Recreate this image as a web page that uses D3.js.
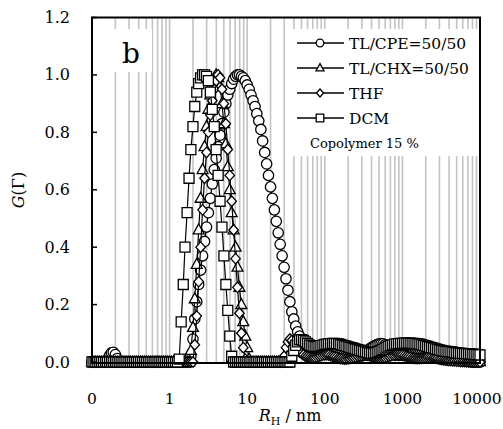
<!DOCTYPE html>
<html><head><meta charset="utf-8">
<script src="https://cdn.jsdelivr.net/npm/d3@7"></script>
<style>body{margin:0;background:#fff}svg{display:block}text{font-family:"DejaVu Serif",serif}</style>
</head><body>
<script>
// R_H grid (nm), log-spaced
const rh = [0.1,0.106,0.112,0.119,0.126,0.133,0.141,0.15,0.158,0.168,0.178,0.188,0.2,0.211,0.224,0.237,0.251,0.266,0.282,0.299,0.316,0.335,0.355,0.376,0.398,0.422,0.447,0.473,0.501,0.531,0.562,0.596,0.631,0.668,0.708,0.75,0.794,0.841,0.891,0.944,
1,1.06,1.12,1.19,1.26,1.33,1.41,1.5,1.58,1.68,1.78,1.88,2,2.11,2.24,2.37,2.51,2.66,2.82,2.99,3.16,3.35,3.55,3.76,3.98,4.22,4.47,4.73,5.01,5.31,5.62,5.96,6.31,6.68,7.08,7.5,7.94,8.41,8.91,9.44,
10,10.6,11.2,11.9,12.6,13.3,14.1,15,15.8,16.8,17.8,18.8,20,21.1,22.4,23.7,25.1,26.6,28.2,29.9,31.6,33.5,35.5,37.6,39.8,42.2,44.7,47.3,50.1,53.1,56.2,59.6,63.1,66.8,70.8,75,79.4,84.1,89.1,94.4,
100,106,112,119,126,133,141,150,158,168,178,188,200,211,224,237,251,266,282,299,316,335,355,376,398,422,447,473,501,531,562,596,631,668,708,750,794,841,891,944,
1000,1059,1122,1189,1259,1334,1413,1496,1585,1679,1778,1884,1995,2113,2239,2371,2512,2661,2818,2985,3162,3350,3548,3758,3981,4217,4467,4732,5012,5309,5623,5957,6310,6683,7079,7499,7943,8414,8913,9441,10000];

// TL/CPE=50/50 (circles)
const gCPE = [0,0,0,0,0,0,0,0,0.008,0.022, 0.032,0.034,0.026,0.012,0,0,0,0,0,0, 0,0,0,0,0,0,0,0,0,0, 0,0,0,0,0,0,0,0,0,0,
0,0,0,0,0,0,0,0,0,0, 0,0.02,0.08,0.15,0.21,0.27,0.32,0.37,0.42,0.47, 0.52,0.57,0.62,0.67,0.71,0.75,0.79,0.83,0.87,0.9, 0.93,0.95,0.97,0.985,0.995,1,1,0.995,0.99,0.98,
0.965,0.95,0.93,0.91,0.89,0.865,0.84,0.81,0.77,0.73, 0.69,0.65,0.61,0.57,0.53,0.49,0.45,0.41,0.37,0.33, 0.29,0.25,0.21,0.175,0.15,0.125,0.105,0.09,0.078,0.068, 0.06,0.052,0.048,0.045,0.043,0.042,0.042,0.043,0.045,0.048,
0.05,0.053,0.055,0.057,0.058,0.058,0.057,0.055,0.052,0.048, 0.044,0.04,0.036,0.033,0.03,0.028,0.027,0.027,0.028,0.03, 0.033,0.037,0.041,0.045,0.05,0.054,0.058,0.061,0.063,0.064, 0.063,0.06,0.056,0.052,0.048,0.045,0.043,0.042,0.042,0.043,
0.045,0.047,0.049,0.051,0.052,0.053,0.053,0.052,0.05,0.048, 0.046,0.044,0.042,0.04,0.038,0.036,0.034,0.032,0.03,0.028, 0.026,0.024,0.022,0.02,0.018,0.016,0.014,0.012,0.01,0.008, 0.006,0.005,0.004,0.003,0.002,0.001,0,0,0,0, 0];

// TL/CHX=50/50 (triangles)
const gCHX = [0,0,0,0,0,0,0,0,0,0, 0,0,0,0,0,0,0,0,0,0, 0,0,0,0,0,0,0,0,0,0, 0,0,0,0,0,0,0,0,0,0,
0,0,0,0,0,0,0,0,0,0, 0,0.04,0.12,0.22,0.34,0.46,0.57,0.67,0.75,0.82, 0.88,0.93,0.97,0.99,1,0.99,0.96,0.9,0.83,0.76, 0.68,0.6,0.52,0.46,0.4,0.33,0.26,0.2,0.14,0.09,
0.05,0.01,0,0,0,0,0,0,0,0, 0,0,0,0,0,0,0,0,0,0, 0,0.01,0.03,0.05,0.06,0.065,0.065,0.06,0.055,0.05, 0.045,0.04,0.035,0.03,0.028,0.026,0.025,0.025,0.026,0.028,
0.03,0.032,0.034,0.036,0.037,0.037,0.036,0.034,0.032,0.03, 0.028,0.026,0.024,0.022,0.02,0.019,0.018,0.018,0.019,0.02, 0.022,0.024,0.026,0.028,0.03,0.032,0.034,0.035,0.036,0.036, 0.035,0.034,0.032,0.03,0.028,0.026,0.024,0.022,0.021,0.02,
0.02,0.021,0.022,0.024,0.026,0.028,0.03,0.031,0.032,0.032, 0.031,0.03,0.028,0.026,0.024,0.022,0.02,0.018,0.016,0.015, 0.014,0.013,0.012,0.011,0.01,0.01,0.009,0.009,0.008,0.008, 0.007,0.007,0.006,0.006,0.005,0.005,0.004,0.004,0.003,0.002, 0.001];

// THF (diamonds)
const gTHF = [0,0,0,0,0,0,0,0,0,0, 0,0,0,0,0,0,0,0,0,0, 0,0,0,0,0,0,0,0,0,0, 0,0,0,0,0,0,0,0,0,0,
0,0,0,0,0,0,0,0,0,0, 0,0,0,0.06,0.16,0.28,0.4,0.53,0.64,0.73, 0.8,0.86,0.91,0.95,0.98,1,0.99,0.95,0.9,0.83, 0.74,0.65,0.56,0.46,0.36,0.26,0.17,0.1,0.05,0.01,
0,0,0,0,0,0,0,0,0,0, 0,0,0,0,0,0,0,0,0,0.02, 0.05,0.07,0.08,0.075,0.065,0.055,0.045,0.035,0.03,0.025, 0.02,0.018,0.016,0.015,0.015,0.016,0.018,0.02,0.022,0.024,
0.025,0.025,0.024,0.022,0.02,0.018,0.016,0.014,0.012,0.011, 0.01,0.01,0.011,0.012,0.014,0.016,0.018,0.02,0.022,0.023, 0.024,0.024,0.023,0.022,0.02,0.018,0.016,0.015,0.014,0.014, 0.015,0.016,0.018,0.02,0.022,0.024,0.025,0.026,0.026,0.025,
0.024,0.022,0.02,0.018,0.016,0.014,0.013,0.012,0.012,0.012, 0.013,0.014,0.015,0.016,0.016,0.016,0.015,0.014,0.012,0.01, 0.009,0.008,0.007,0.006,0.005,0.005,0.004,0.004,0.003,0.003, 0.002,0.002,0.002,0.001,0.001,0.001,0,0,0,0, 0];

// DCM (squares)
const gDCM = [0,0,0,0,0,0,0,0,0,0, 0,0,0,0,0,0,0,0,0,0, 0,0,0,0,0,0,0,0,0,0, 0,0,0,0,0,0,0,0,0,0,
0,0,0,0,0,0.01,0.14,0.27,0.4,0.52, 0.64,0.74,0.82,0.89,0.94,0.97,0.99,1,1,0.995, 0.98,0.94,0.88,0.82,0.74,0.65,0.56,0.47,0.37,0.27, 0.18,0.09,0.02,0,0,0,0,0,0,0,
0,0,0,0,0,0,0,0,0,0, 0,0,0,0,0,0,0,0,0,0, 0,0,0,0.02,0.04,0.058,0.07,0.077,0.078,0.075, 0.07,0.065,0.06,0.057,0.055,0.054,0.054,0.055,0.057,0.059,
0.061,0.062,0.063,0.064,0.065,0.065,0.064,0.063,0.061,0.059, 0.057,0.055,0.053,0.051,0.049,0.047,0.045,0.043,0.041,0.039, 0.037,0.035,0.033,0.032,0.031,0.031,0.032,0.034,0.037,0.04, 0.044,0.048,0.052,0.055,0.058,0.06,0.062,0.063,0.064,0.065,
0.065,0.066,0.066,0.066,0.066,0.065,0.065,0.064,0.063,0.062, 0.06,0.058,0.056,0.054,0.052,0.05,0.048,0.046,0.044,0.042, 0.04,0.039,0.038,0.037,0.036,0.035,0.034,0.033,0.032,0.031, 0.03,0.03,0.029,0.029,0.028,0.028,0.027,0.027,0.026,0.026, 0.025];

const seriesNames = ["TL/CPE=50/50","TL/CHX=50/50","THF","DCM"];
const seriesShapes = ["circle","triangle","diamond","square"];
const seriesValues = [gCPE, gCHX, gTHF, gDCM];
const xTickValues = [0.1,1,10,100,1000,10000];
const xTickLabels = ["0","1","10","100","1000","10000"];
const yTickValues = [0,0.2,0.4,0.6,0.8,1.0,1.2];
const panelLabel = "b";
const noteText = "Copolymer 15 %";

const W = 503, H = 429;
const svg = d3.select("body").append("svg").attr("width", W).attr("height", H);
const x = d3.scaleLog().domain([0.1, 10000]).range([92, 480]);
const y = d3.scaleLinear().domain([0, 1.2]).range([362, 17.5]);

// minor gridlines
const grid = [];
for (let d = -1; d < 4; d++) for (let m = 1; m <= 9; m++) { const v = m * Math.pow(10, d); if (v > 0.1 && v < 10000) grid.push(v); }
svg.append("g").selectAll("line").data(grid).join("line")
  .attr("x1", d => x(d)).attr("x2", d => x(d)).attr("y1", y(1.2)).attr("y2", y(0))
  .attr("stroke", "#c4c4c4").attr("stroke-width", 1.6);

// white boxes behind panel label and legend
svg.append("rect").attr("x", 93).attr("y", 29).attr("width", 59).attr("height", 43).attr("fill", "#fff");
svg.append("rect").attr("x", 291).attr("y", 29).attr("width", 188).attr("height", 127).attr("fill", "#fff");

function symPath(shape, s) {
  if (shape === "circle") return d3.symbol(d3.symbolCircle, Math.PI * s * s)();
  if (shape === "square") return `M${-s},${-s}H${s}V${s}H${-s}Z`;
  if (shape === "triangle") return `M0,${-s * 1.15}L${s * 1.05},${s * 0.75}L${-s * 1.05},${s * 0.75}Z`;
  if (shape === "diamond") return `M0,${-s * 1.05}L${s * 0.95},0L0,${s * 1.05}L${-s * 0.95},0Z`;
}
const sizes = {circle: 5.2, square: 5, triangle: 5.2, diamond: 5};

const plot = svg.append("g");
seriesValues.forEach((vals, k) => {
  const pts = rh.map((r, i) => [r, vals[i]]);
  const g = plot.append("g");
  g.append("path").datum(pts)
    .attr("d", d3.line().x(d => x(d[0])).y(d => y(d[1])))
    .attr("fill", "none").attr("stroke", "#000").attr("stroke-width", 1.2);
  g.selectAll("path.m").data(pts).join("path").attr("class", "m")
    .attr("transform", d => `translate(${x(d[0])},${y(d[1])})`)
    .attr("d", symPath(seriesShapes[k], sizes[seriesShapes[k]]))
    .attr("fill", "#fff").attr("stroke", "#000").attr("stroke-width", 1.3);
});

// frame
svg.append("rect").attr("x", 92).attr("y", 17.5).attr("width", 388).attr("height", 345.5)
  .attr("fill", "none").attr("stroke", "#000").attr("stroke-width", 2);

// y ticks
svg.append("g").selectAll("line").data(yTickValues).join("line")
  .attr("x1", 92).attr("x2", 97).attr("y1", d => y(d)).attr("y2", d => y(d))
  .attr("stroke", "#000").attr("stroke-width", 1.5);
svg.append("g").selectAll("text").data(yTickValues).join("text")
  .attr("x", 70).attr("y", d => y(d) + 5.5).attr("text-anchor", "end")
  .attr("font-size", 16).text(d => d.toFixed(1));
// x labels
svg.append("g").selectAll("text").data(xTickValues).join("text")
  .attr("x", (d, i) => i === xTickValues.length - 1 ? x(d) - 3 : x(d)).attr("y", 404).attr("text-anchor", "middle")
  .attr("font-size", 15.5).text((d, i) => xTickLabels[i]);

// axis titles
const yt = svg.append("text").attr("transform", "translate(24,190) rotate(-90)")
  .attr("text-anchor", "middle").attr("font-size", 16);
yt.append("tspan").attr("font-style", "italic").text("G");
yt.append("tspan").text("(Γ)");
const xt = svg.append("text").attr("x", 290).attr("y", 421).attr("text-anchor", "middle").attr("font-size", 16);
xt.append("tspan").attr("font-style", "italic").text("R");
xt.append("tspan").attr("font-size", 11).attr("dy", 4).text("H");
xt.append("tspan").attr("dy", -4).text(" / nm");

// panel label
svg.append("text").attr("x", 122).attr("y", 63).attr("font-size", 28).text(panelLabel);

// legend
const legRows = [43, 68, 93, 118];
seriesNames.forEach((n, k) => {
  const yy = legRows[k];
  svg.append("line").attr("x1", 297).attr("x2", 344).attr("y1", yy).attr("y2", yy).attr("stroke", "#000").attr("stroke-width", 1.3);
  svg.append("path").attr("transform", `translate(320,${yy})`).attr("d", symPath(seriesShapes[k], 3.8))
    .attr("fill", "#fff").attr("stroke", "#000").attr("stroke-width", 1.3);
  svg.append("text").attr("x", 349).attr("y", yy + 5.5).attr("font-size", 15.5).text(n);
});
svg.append("text").attr("x", 310).attr("y", 148).attr("font-size", 13).text(noteText);
</script>
</body></html>
